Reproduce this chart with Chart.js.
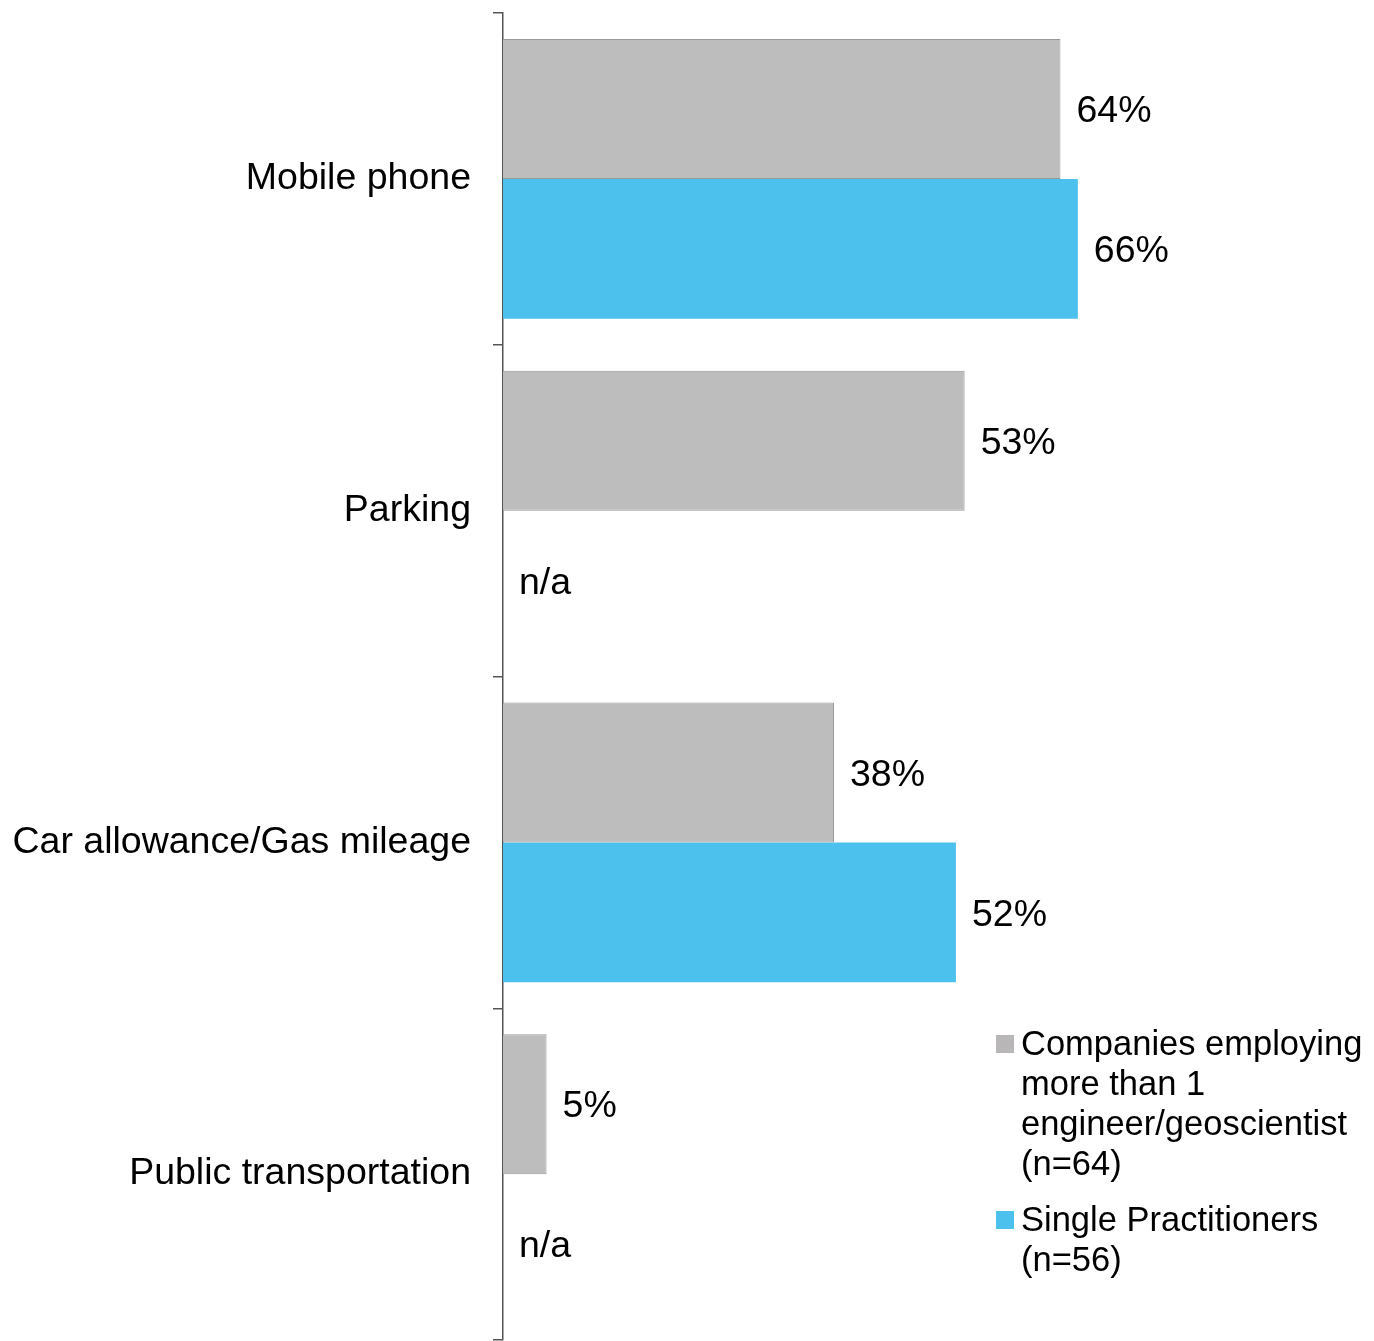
<!DOCTYPE html>
<html>
<head>
<meta charset="utf-8">
<script src="https://cdn.jsdelivr.net/npm/chart.js@4/dist/chart.umd.min.js"></script>
<style>
  body { margin: 0; background: #fff; }
  #wrap { position: relative; width: 1374px; height: 1341px; }
  #legend { position: absolute; left: 996px; top: 1023px; font-family: 'Liberation Sans', Arial, sans-serif; font-size: 34.5px; line-height: 40px; color: #000; }
  #legend .item { position: relative; padding-left: 25px; margin-bottom: 16px; }
  #legend .sw { position: absolute; left: 0; top: 12px; width: 18px; height: 18px; }
</style>
</head>
<body>
<div id="wrap">
  <canvas id="myChart" width="1374" height="1341"></canvas>
  <div id="legend"></div>
</div>
<script>
const categories = ['Mobile phone', 'Parking', 'Car allowance/Gas mileage', 'Public transportation']
const companies = [64, 53, 38, 5]
const singles = [66, null, 52, null]
const seriesNames = ['Companies employing more than 1<br>engineer/geoscientist<br>(n=64)', 'Single Practitioners<br>(n=56)']
const greyFill = '#bdbdbd'
const blueFill = '#4cc1ed'

const font = "'Liberation Sans', Arial, sans-serif"

// value labels next to each bar, "n/a" where there is no value
const barLabels = {
    id: 'barLabels',
    afterDatasetsDraw(chart) {
        const ctx = chart.ctx
        const x0 = chart.scales.x.getPixelForValue(0)
        ctx.save()
        ctx.font = '37.5px ' + font
        ctx.fillStyle = '#000'
        ctx.textBaseline = 'middle'
        chart.data.datasets.forEach((ds, di) => {
            chart.getDatasetMeta(di).data.forEach((bar, i) => {
                const v = ds.data[i]
                if (v == null) ctx.fillText('n/a', x0 + 16, bar.y + 3)
                else ctx.fillText(v + '%', bar.x + 16, bar.y + 3)
            })
        })
        ctx.restore()
    }
}

const ctx = document.getElementById('myChart').getContext('2d')
window.bar = new Chart(ctx, {
    type: 'bar',
    data: {
        labels: categories,
        datasets: [{
            label: 'Companies employing more than 1 engineer/geoscientist (n=64)',
            data: companies,
            backgroundColor: greyFill,
            borderColor: '#999',
            borderWidth: 1,
            categoryPercentage: 0.844,
            barPercentage: 1
        }, {
            label: 'Single Practitioners (n=56)',
            data: singles,
            backgroundColor: blueFill,
            borderWidth: 0,
            categoryPercentage: 0.844,
            barPercentage: 1
        }]
    },
    options: {
        indexAxis: 'y',
        responsive: false,
        animation: false,
        layout: { padding: { top: 13, bottom: 1, right: 0, left: 0 } },
        plugins: { legend: { display: false }, tooltip: { enabled: false } },
        scales: {
            x: { display: false, min: 0, max: 100 },
            y: {
                afterFit(scale) {
                    scale.width = 503
                    // labels sit mid-category, no extra room needed above/below
                    scale.paddingTop = 0
                    scale.paddingBottom = 0
                },
                border: { color: '#555', width: 1.5 },
                grid: { offset: true, drawOnChartArea: false, tickLength: 10, color: '#555', lineWidth: 1.5 },
                ticks: { color: '#000', padding: 22, font: { family: font, size: 37.5 } }
            }
        }
    },
    plugins: [barLabels]
})

document.getElementById('legend').innerHTML = seriesNames.map((n, i) =>
    '<div class="item"><span class="sw" style="background:' + (i ? blueFill : '#b8b6b6') + '"></span>' + n + '</div>'
).join('')
</script>
</body>
</html>
